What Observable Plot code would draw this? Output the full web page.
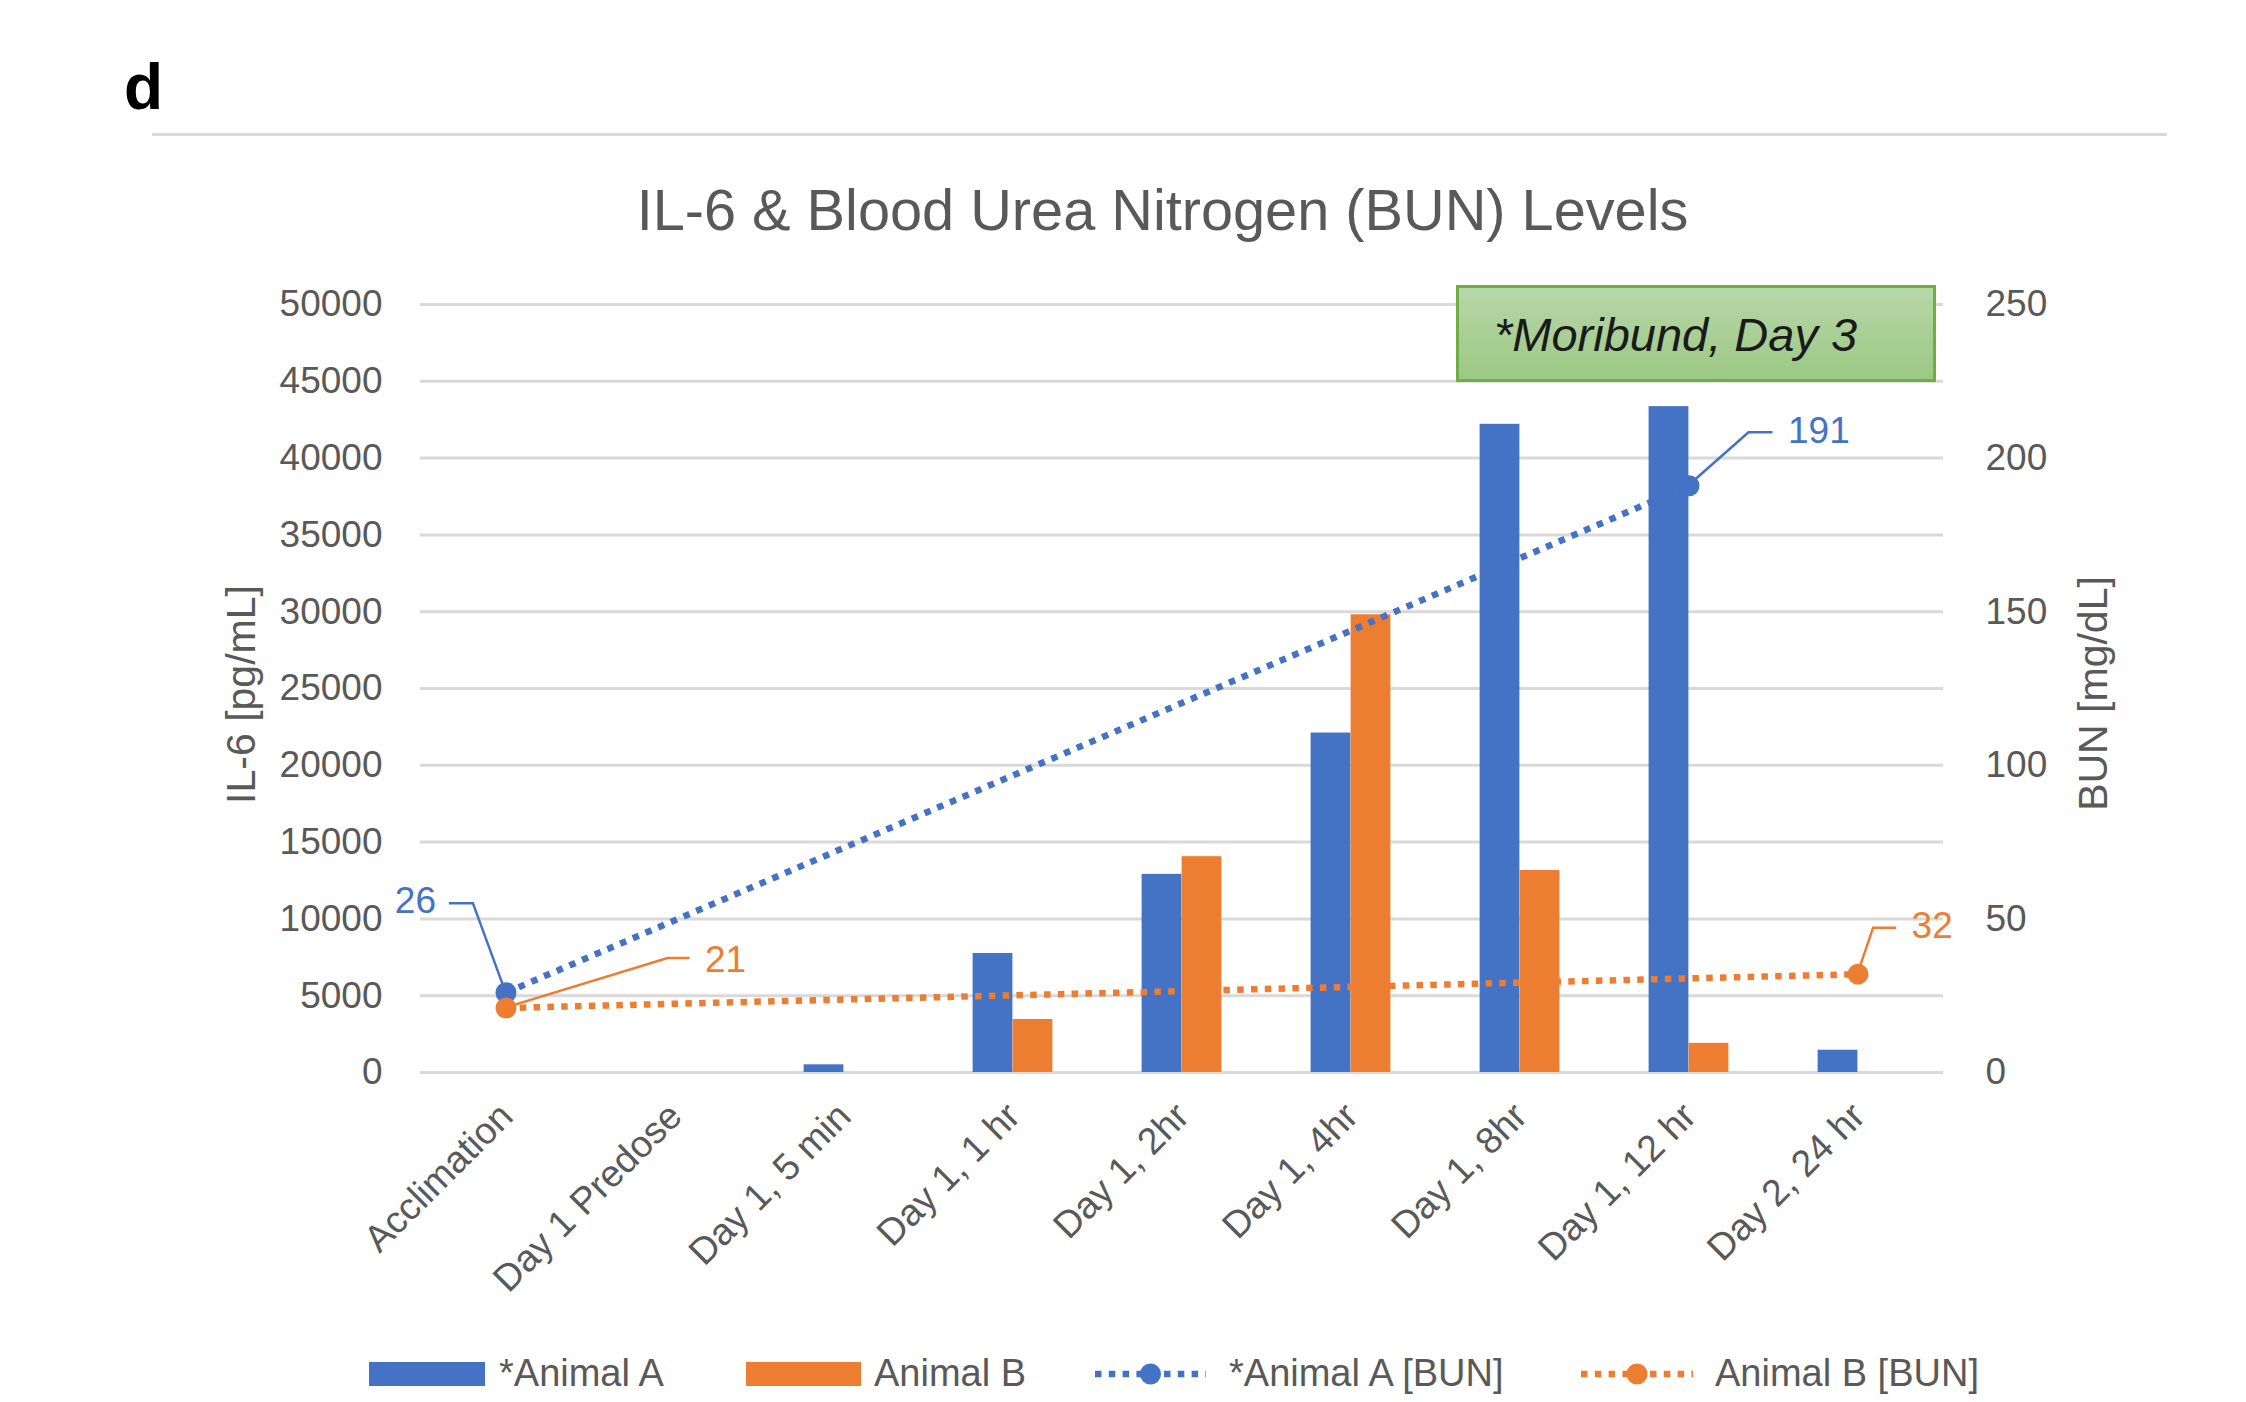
<!DOCTYPE html>
<html><head><meta charset="utf-8">
<script src="https://cdn.jsdelivr.net/npm/d3@7"></script>
<script src="https://cdn.jsdelivr.net/npm/@observablehq/plot@0.6"></script>
<style>
html,body{margin:0;padding:0;background:#fff;}
body{width:2246px;height:1402px;position:relative;overflow:hidden;font-family:"Liberation Sans",Arial,sans-serif;}
.abs{position:absolute;white-space:nowrap;line-height:0;}
</style></head><body>
<div class="abs" style="left:124px;top:87px;font-size:64px;font-weight:bold;color:#000;">d</div>
<div class="abs" style="left:152px;top:133px;width:2015px;height:3px;background:#d9d9d9;"></div>
<div class="abs" style="left:1162.5px;top:209.6px;transform:translateX(-50%);font-size:57.7px;color:#595959;">IL-6 &amp; Blood Urea Nitrogen (BUN) Levels</div>
<div id="chart" style="position:absolute;left:0;top:250px;"></div>
<div style="position:absolute;left:1455.5px;top:285px;width:480px;height:97px;box-sizing:border-box;border:3px solid #70ad47;background:linear-gradient(#b7d7a8,#9cc884);">
  <div class="abs" style="left:35.5px;top:46.8px;font-size:47px;font-style:italic;color:#1a1a1a;">*Moribund, Day 3</div>
</div>
<div id="legend"></div>
<script>
// ---- data ----
const categories = ["Acclimation","Day 1 Predose","Day 1, 5 min","Day 1, 1 hr","Day 1, 2hr","Day 1, 4hr","Day 1, 8hr","Day 1, 12 hr","Day 2, 24 hr"];
const il6A = [null, null, 500, 7750, 12900, 22100, 42200, 43350, 1450];
const il6B = [null, null, null, 3450, 14050, 29800, 13150, 1900, null];
const bunA = [26, null, null, null, null, null, null, 191, null];
const bunB = [21, null, null, null, null, null, null, null, 32];
const il6Ticks = [0,5000,10000,15000,20000,25000,30000,35000,40000,45000,50000];
const bunTicks = [0,50,100,150,200,250];
const il6Max = 50000, bunMax = 250;
const seriesNames = ["*Animal A","Animal B","*Animal A [BUN]","Animal B [BUN]"];

// ---- styles ----
const BLUE = "#4472C4", ORANGE = "#ED7D31", GRAY = "#595959", GRID = "#d9d9d9";
const ratio = il6Max / bunMax;
const W = 2246, H = 1080, ML = 420, MR = 303, MT = 54, MB = 258;
const bw = (W - ML - MR) / categories.length;
const barW = 40;
const dash = "6.5,7.3", lineW = 6.5, dotR = 10.5;

const rows = (arr) => categories.map((c, i) => ({cat: c, v: arr[i], i})).filter(d => d.v != null);
const rA = rows(il6A), rB = rows(il6B), lA = rows(bunA), lB = rows(bunB);

const labelLayout = [
  {src: lA, idx: 0, color: BLUE, dx: -70, dy: -91, anchor: "end", elbow: [-32.6, -89], end: [-56.6, -89]},
  {src: lB, idx: 0, color: ORANGE, dx: 199, dy: -48, anchor: "start", elbow: [162, -49.5], end: [184, -49.5]},
  {src: lA, idx: 1, color: BLUE, dx: 99, dy: -54.5, anchor: "start", elbow: [60, -53], end: [84, -53]},
  {src: lB, idx: 1, color: ORANGE, dx: 53.6, dy: -47.7, anchor: "start", elbow: [15.6, -46], end: [38.6, -46]}
];

function leaders(index, scales) {
  const g = d3.create("svg:g");
  const sx = scales.x, sy = scales.y;
  const off = typeof sx.bandwidth === "function" ? sx.bandwidth() / 2 : 0;
  for (const L of labelLayout) {
    const p = L.src[L.idx];
    const px = sx(p.cat) + off, py = sy(p.v * ratio);
    g.append("path")
      .attr("d", `M${px},${py}L${px + L.elbow[0]},${py + L.elbow[1]}L${px + L.end[0]},${py + L.end[1]}`)
      .attr("fill", "none").attr("stroke", L.color).attr("stroke-width", 2.5);
  }
  return g.node();
}

const chart = Plot.plot({
  width: W, height: H,
  marginLeft: ML, marginRight: MR, marginTop: MT, marginBottom: MB,
  style: {fontFamily: "Liberation Sans, Arial, sans-serif", background: "transparent", overflow: "visible"},
  x: {type: "band", domain: categories, padding: 0, axis: null},
  y: {domain: [0, il6Max], axis: null},
  marks: [
    Plot.ruleY(il6Ticks, {stroke: GRID, strokeWidth: 3}),
    Plot.text(il6Ticks, {y: d => d, frameAnchor: "left", dx: -38, textAnchor: "end", text: d => String(d), fontSize: 37, fill: GRAY}),
    Plot.text(bunTicks, {y: d => d * ratio, frameAnchor: "right", dx: 42, textAnchor: "start", text: d => String(d), fontSize: 37, fill: GRAY}),
    Plot.text(["IL-6 [pg/mL]"], {frameAnchor: "left", dx: -179, dy: 6, rotate: -90, textAnchor: "middle", text: d => d, fontSize: 41, fill: GRAY}),
    Plot.text(["BUN [mg/dL]"], {frameAnchor: "right", dx: 150, dy: 5, rotate: -90, textAnchor: "middle", text: d => d, fontSize: 41, fill: GRAY}),
    Plot.text(categories, {x: d => d, frameAnchor: "bottom", text: d => d, rotate: -45, textAnchor: "end", dx: 9, dy: 46, fontSize: 37.5, fill: GRAY}),
    Plot.barY(rA, {x: "cat", y: "v", fill: BLUE, insetLeft: bw / 2 - barW, insetRight: bw / 2}),
    Plot.barY(rB, {x: "cat", y: "v", fill: ORANGE, insetLeft: bw / 2, insetRight: bw / 2 - barW}),
    Plot.line(lA, {x: "cat", y: d => d.v * ratio, stroke: BLUE, strokeWidth: lineW, strokeDasharray: dash, strokeLinecap: "butt"}),
    Plot.dot(lA, {x: "cat", y: d => d.v * ratio, r: dotR, fill: BLUE}),
    Plot.line(lB, {x: "cat", y: d => d.v * ratio, stroke: ORANGE, strokeWidth: lineW, strokeDasharray: dash, strokeLinecap: "butt"}),
    Plot.dot(lB, {x: "cat", y: d => d.v * ratio, r: dotR, fill: ORANGE}),
    leaders,
    ...labelLayout.map(L => Plot.text([L.src[L.idx]], {x: "cat", y: d => d.v * ratio, text: d => String(d.v), dx: L.dx, dy: L.dy, textAnchor: L.anchor, fontSize: 37, fill: L.color}))
  ]
});
document.getElementById("chart").appendChild(chart);

// ---- legend ----
const legend = document.getElementById("legend");
const items = [
  {name: seriesNames[0], kind: "rect", color: BLUE, sx: 369, sw: 116, tx: 499},
  {name: seriesNames[1], kind: "rect", color: ORANGE, sx: 746, sw: 115, tx: 874},
  {name: seriesNames[2], kind: "line", color: BLUE, sx: 1095, sw: 111, tx: 1229},
  {name: seriesNames[3], kind: "line", color: ORANGE, sx: 1581, sw: 112, tx: 1715}
];
for (const it of items) {
  const s = d3.create("svg").attr("width", it.sw).attr("height", 26)
    .style("position", "absolute").style("left", it.sx + "px").style("top", "1361px");
  if (it.kind === "rect") {
    s.append("rect").attr("x", 0).attr("y", 1).attr("width", it.sw).attr("height", 24).attr("fill", it.color);
  } else {
    s.append("line").attr("x1", 0).attr("x2", it.sw).attr("y1", 13).attr("y2", 13)
      .attr("stroke", it.color).attr("stroke-width", lineW).attr("stroke-dasharray", dash);
    s.append("circle").attr("cx", it.sw / 2).attr("cy", 13).attr("r", dotR).attr("fill", it.color);
  }
  legend.appendChild(s.node());
  const t = document.createElement("div");
  t.className = "abs";
  t.style.cssText = `left:${it.tx}px;top:1373px;font-size:38px;color:${GRAY};`;
  t.textContent = it.name;
  legend.appendChild(t);
}
</script>
</body></html>
